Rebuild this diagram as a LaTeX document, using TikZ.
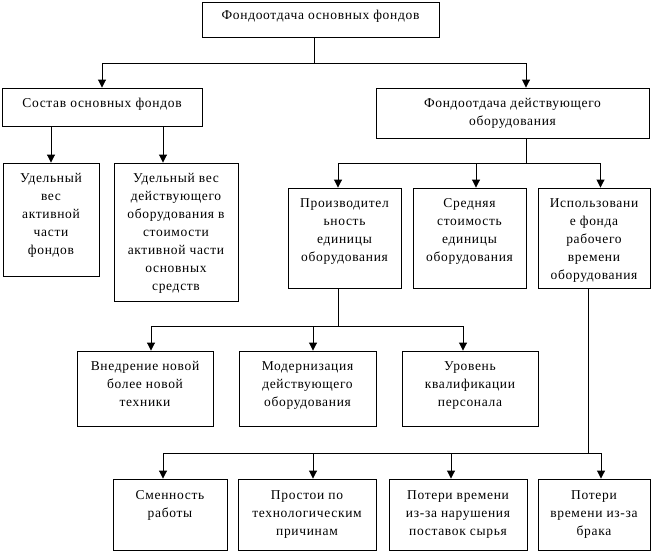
\documentclass[tikz,border=0pt]{standalone}
\usepackage{fontspec}
\setmainfont{Liberation Serif}[LetterSpace=5]
\usetikzlibrary{arrows.meta}
\tikzset{
  box/.style={draw, line width=0.9pt, inner sep=0pt, font=\fontsize{13.5}{18}\selectfont},
  conn/.style={line width=0.9pt},
  arr/.style={conn, -{Triangle[width=8pt,length=8pt]}},
}
\newcommand{\bx}[7]{%
  \node[box] (#1) at ({(#2+#4)/2},{(#3+#5)/2})
    {\parbox[c][\dimexpr#5pt-#3pt\relax][t]{\dimexpr#4pt-#2pt\relax}{\centering\vspace*{#6pt}\strut#7\par}};}
\begin{document}
\begin{tikzpicture}[x=1pt,y=-1pt]
\useasboundingbox (0,0) rectangle (652,552);
\fill[white] (0,0) rectangle (652,552);
% boxes
\bx{top}{202}{2}{439}{37}{5}{Фондоотдача основных фондов}
\bx{left}{2}{88}{202}{126}{7}{Состав основных фондов}
\bx{right}{376}{88}{649}{138}{7}{Фондоотдача действующего\\оборудования}
\bx{A}{3}{163}{99}{276}{7}{Удельный\\вес\\активной\\части\\фондов}
\bx{B}{114}{163}{238}{301}{7}{Удельный вес\\действующего\\оборудования в\\стоимости\\активной части\\основных\\средств}
\bx{P}{288}{188}{401}{288}{7}{Производител\\ьность\\единицы\\оборудования}
\bx{S}{413}{188}{526}{288}{7}{Средняя\\стоимость\\единицы\\оборудования}
\bx{I}{538}{188}{650}{288}{7}{Использовани\\е фонда\\рабочего\\времени\\оборудования}
\bx{R1}{77}{351}{213}{426}{7}{Внедрение новой\\более новой\\техники}
\bx{R2}{239}{351}{376}{426}{7}{Модернизация\\действующего\\оборудования}
\bx{R3}{402}{351}{538}{426}{7}{Уровень\\квалификации\\персонала}
\bx{T1}{113}{479}{227}{550}{8}{Сменность\\работы}
\bx{T2}{238}{479}{376}{550}{8}{Простои по\\технологическим\\причинам}
\bx{T3}{389}{479}{527}{550}{8}{Потери времени\\из-за нарушения\\поставок сырья}
\bx{T4}{538}{479}{650}{550}{8}{Потери\\времени из-за\\брака}
% junctions and arrow targets
\coordinate (j1) at (314,63);
\coordinate (j2) at (526,163);
\coordinate (j3) at (338,326);
\coordinate (j4) at (588,453);
\coordinate (tB) at ([xshift=-13pt]B.north);
% connectors
\draw[conn] (top.south -| j1) -- (j1);
\draw[arr] (j1) -| (left.north);
\draw[arr] (j1) -| ([xshift=13.5pt]right.north);
\draw[arr] (left.south -| A.north) -- (A.north);
\draw[arr] (left.south -| tB) -- (tB);
\draw[conn] (right.south -| j2) -- (j2);
\draw[arr] (j2) -| ([xshift=-6.5pt]P.north);
\draw[arr] (j2) -| ([xshift=6.5pt]S.north);
\draw[arr] (j2) -| ([xshift=6.5pt]I.north);
\draw[conn] (P.south -| j3) -- (j3);
\draw[arr] (j3) -| ([xshift=6pt]R1.north);
\draw[arr] (j3) -| ([xshift=5.5pt]R2.north);
\draw[arr] (j3) -| ([xshift=-7pt]R3.north);
\draw[conn] (I.south -| j4) -- (j4);
\draw[arr] (j4) -| ([xshift=-7pt]T1.north);
\draw[arr] (j4) -| ([xshift=6pt]T2.north);
\draw[arr] (j4) -| ([xshift=-7pt]T3.north);
\draw[arr] (j4) -| ([xshift=7pt]T4.north);
\end{tikzpicture}
\end{document}
